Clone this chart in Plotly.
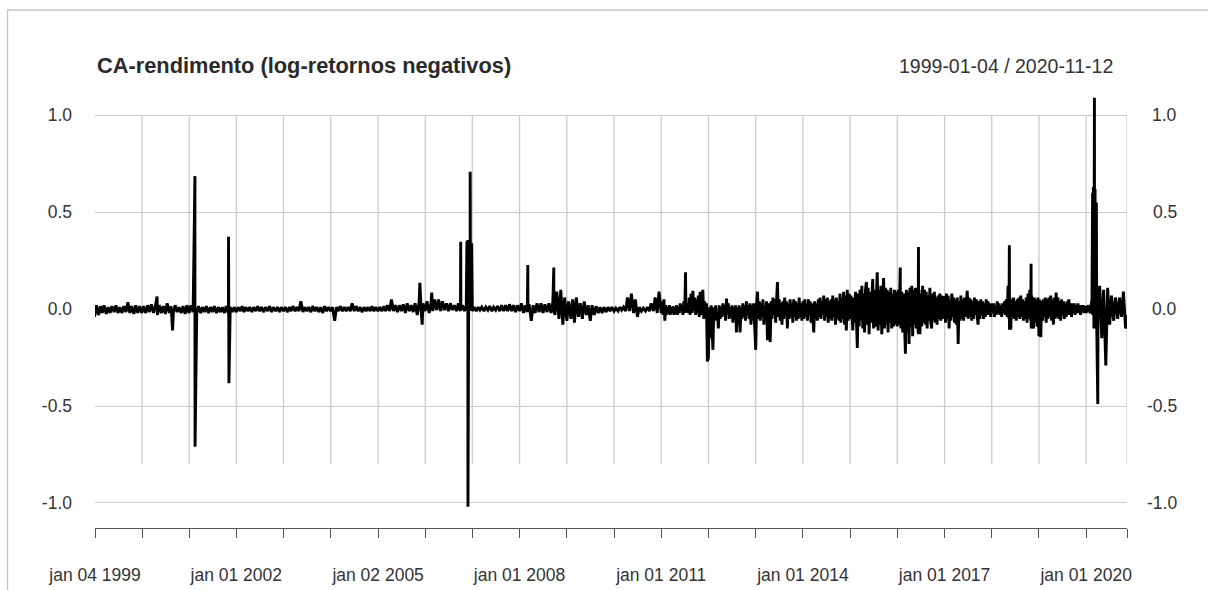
import pandas as pd
import plotly.graph_objects as go

title_text = "CA-rendimento (log-retornos negativos)"
period_text = "1999-01-04 / 2020-11-12"
start_date = "1999-01-04"
end_date = "2020-11-12"

# Semi-monthly readings (1st and 15th of each month) for the calmer years
r1999 = [-0.04, 0.02, -0.03, 0.015, -0.02, 0.02, -0.025, 0.01, -0.02, 0.015, -0.015, 0.02,
         -0.02, 0.01, -0.02, 0.015, -0.015, 0.035, -0.02, 0.015, -0.025, 0.02, -0.02, 0.015]
r2000 = [-0.02, 0.015, -0.02, 0.02, -0.015, 0.025, -0.02, 0.015, -0.03, 0.02, -0.02, 0.015,
         -0.025, 0.03, -0.02, 0.015, -0.02, 0.02, -0.015, 0.01, -0.02, 0.015, -0.025, 0.02]
r2001 = [-0.02, 0.02, -0.015, 0.01, -0.02, 0.015, -0.02, 0.01, -0.015, 0.015, -0.02, 0.01,
         -0.015, 0.015, -0.02, 0.01, -0.015, 0.01, -0.02, 0.015, -0.02, 0.01, -0.015, 0.01]
r2002 = [-0.015, 0.01, -0.01, 0.015, -0.015, 0.01, -0.01, 0.01, -0.015, 0.01, -0.01, 0.015,
         -0.01, 0.01, -0.015, 0.01, -0.01, 0.015, -0.015, 0.01, -0.01, 0.01, -0.015, 0.01]
r2003 = [-0.01, 0.01, -0.015, 0.01, -0.01, 0.015, -0.01, 0.01, -0.01, 0.04, -0.015, 0.01,
         -0.01, 0.01, -0.015, 0.015, -0.01, 0.01, -0.015, 0.01, -0.02, 0.015, -0.01, 0.01]
r2004 = [-0.01, 0.01, -0.06, 0.01, -0.01, 0.015, -0.01, 0.01, -0.01, 0.01, -0.01, 0.03,
         -0.01, 0.015, -0.01, 0.01, -0.015, 0.01, -0.01, 0.01, -0.01, 0.015, -0.01, 0.01]
r2005 = [-0.01, 0.01, -0.01, 0.015, -0.01, 0.02, -0.01, 0.05, -0.01, 0.02, -0.015, 0.02,
         -0.01, 0.025, -0.02, 0.03, -0.01, 0.02, -0.015, 0.03, -0.03, 0.035, -0.01, 0.03]
r2006 = [-0.01, 0.04, -0.02, 0.03, -0.01, 0.05, -0.005, 0.05, -0.01, 0.04, -0.005, 0.03,
         -0.01, 0.03, -0.005, 0.02, -0.01, 0.03, -0.01, 0.02, -0.01, 0.02, -0.01, 0.02]
r2007 = [-0.01, 0.01, -0.01, 0.01, -0.005, 0.01, -0.01, 0.01, -0.005, 0.015, -0.01, 0.01,
         -0.005, 0.015, -0.01, 0.02, -0.01, 0.02, -0.01, 0.025, -0.01, 0.02, -0.015, 0.02]
r2008 = [-0.01, 0.03, -0.02, 0.02, -0.015, 0.025, -0.06, 0.02, -0.02, 0.03, -0.015, 0.03,
         -0.02, 0.025, -0.015, 0.03, -0.02, 0.04, -0.03, 0.09, -0.05, 0.1, -0.08, 0.06]
r2009 = [-0.06, 0.04, -0.05, 0.05, -0.07, 0.06, -0.04, 0.03, -0.05, 0.04, -0.03, 0.02,
         -0.06, 0.02, -0.03, 0.015, -0.02, 0.01, -0.02, 0.01, -0.015, 0.01, -0.01, 0.01]
r2010 = [-0.01, 0.005, -0.01, 0.01, -0.005, 0.01, -0.01, 0.06, -0.01, 0.08, -0.02, 0.05,
         -0.04, 0.01, -0.01, 0.005, -0.01, 0.01, -0.01, 0.03, -0.01, 0.06, -0.02, 0.09]
r2020 = [-0.02, 0.02, -0.02, 0.05, -0.1, 0.12, -0.2, 0.12, -0.15, 0.1, -0.29, 0.11,
         -0.08, 0.07, -0.06, 0.06, -0.05, 0.06, -0.04, 0.09, -0.1]

# Weekly readings for the more volatile years (52 per year, from Jan 1)
w2011 = [-0.02, 0.04, -0.03, 0.05, -0.06, 0.02, -0.03, 0.01, -0.02, 0.02,
         -0.03, 0.01, -0.02, 0.015, -0.03, 0.01, -0.025, 0.02, -0.03, 0.01,
         -0.02, 0.03, -0.01, 0.02, -0.03, 0.04, -0.02, 0.05, -0.01, 0.03,
         -0.02, 0.06, -0.03, 0.08, -0.02, 0.095, -0.01, 0.06, -0.03, 0.05,
         -0.02, 0.07, -0.04, 0.09, -0.03, 0.06, 0.1, -0.05, 0.04, -0.03,
         0.03, -0.27]
w2012 = [-0.25, 0.01, -0.15, 0.02, -0.08, -0.21, 0.01, -0.06, 0.02, -0.05,
         -0.03, -0.1, 0.02, -0.05, 0.01, -0.04, 0.03, -0.03, 0.02, -0.06,
         0.055, -0.02, 0.03, -0.05, 0.01, -0.04, 0.02, -0.07, 0.01, -0.05,
         0.02, -0.12, 0.01, -0.08, 0.02, -0.12, 0.01, -0.05, 0.03, -0.04,
         0.02, -0.06, 0.04, -0.03, 0.02, -0.05, 0.03, -0.08, 0.02, -0.06,
         0.03, -0.05]
w2013 = [-0.21, 0.03, 0.09, -0.05, 0.04, -0.06, 0.03, -0.04, 0.05, -0.08,
         0.02, -0.05, 0.04, -0.16, 0.03, -0.06, -0.17, 0.04, -0.05, 0.06,
         -0.03, 0.05, -0.07, 0.04, 0.14, -0.04, 0.05, -0.06, 0.03, -0.08,
         0.04, -0.05, 0.06, -0.03, 0.04, -0.1, 0.03, -0.05, 0.05, -0.04,
         0.03, -0.07, 0.05, -0.04, 0.04, -0.06, 0.03, -0.05, 0.06, -0.04,
         0.03, -0.06]
w2014 = [0.04, -0.05, 0.05, -0.04, 0.03, -0.06, 0.05, -0.03, 0.04, -0.07,
         0.03, -0.05, -0.12, 0.04, -0.05, 0.03, -0.06, 0.05, -0.04, 0.06,
         -0.05, 0.04, -0.03, 0.07, -0.06, 0.05, -0.04, 0.06, -0.07, 0.04,
         -0.05, 0.05, -0.06, 0.07, -0.04, 0.05, -0.08, 0.06, -0.05, 0.04,
         -0.06, 0.08, -0.07, 0.06, -0.05, 0.09, -0.08, 0.07, -0.11, 0.1,
         -0.06, 0.08]
w2015 = [-0.05, 0.07, -0.08, -0.11, 0.06, -0.07, 0.09, -0.1, -0.2, 0.08,
         -0.09, 0.1, -0.06, 0.12, -0.1, 0.08, -0.12, 0.1, 0.14, -0.08,
         0.11, -0.13, 0.09, -0.07, 0.12, 0.155, -0.1, 0.1, -0.09, 0.13,
         0.19, -0.11, 0.1, -0.08, 0.12, -0.13, 0.09, 0.16, -0.1, 0.11,
         -0.08, 0.1, -0.12, 0.09, -0.07, 0.11, -0.1, 0.08, -0.09, 0.1,
         -0.08, 0.09]
w2016 = [-0.09, 0.1, -0.08, 0.12, -0.1, 0.09, -0.12, 0.08, -0.1, -0.23,
         0.1, -0.12, 0.09, -0.18, 0.11, -0.09, 0.12, -0.14, 0.1, -0.08,
         0.11, -0.1, 0.09, -0.12, 0.1, -0.13, 0.08, -0.09, 0.12, -0.07,
         0.1, -0.08, 0.09, -0.1, 0.07, -0.06, 0.11, -0.07, -0.1, 0.08,
         -0.06, 0.09, -0.07, 0.06, -0.08, 0.07, -0.05, 0.08, -0.06, 0.07,
         -0.05, 0.06]
w2017 = [0.06, -0.07, 0.08, -0.05, 0.07, -0.1, 0.05, -0.06, 0.08, -0.04,
         0.06, -0.07, 0.05, -0.08, 0.06, -0.18, 0.04, -0.06, 0.07, -0.05,
         0.05, -0.06, 0.06, -0.04, 0.07, 0.095, -0.05, 0.06, -0.04, 0.05,
         -0.06, 0.04, -0.05, 0.06, -0.03, 0.05, -0.04, -0.08, 0.04, -0.05,
         0.05, -0.03, 0.04, -0.05, 0.03, -0.04, 0.05, -0.03, 0.04, -0.03,
         0.03, -0.04]
w2018 = [0.03, -0.02, 0.03, -0.04, 0.02, -0.03, 0.04, -0.02, 0.03, -0.03,
         0.02, -0.04, 0.03, -0.02, 0.04, -0.03, 0.05, -0.04, 0.12, -0.05,
         0.06, -0.106, 0.05, -0.04, 0.06, -0.05, 0.04, -0.06, 0.05, -0.04,
         0.06, -0.05, 0.07, -0.04, 0.05, -0.06, 0.04, -0.05, 0.06, -0.07,
         0.08, -0.05, 0.1, -0.06, 0.07, -0.08, -0.1, 0.06, -0.07, 0.05,
         -0.09, 0.06]
w2019 = [-0.14, 0.05, -0.145, 0.04, -0.06, 0.05, -0.04, 0.06, -0.07, 0.05,
         -0.05, 0.06, -0.04, 0.07, -0.06, 0.05, -0.08, 0.06, -0.05, 0.085,
         -0.04, 0.06, -0.05, 0.04, -0.06, 0.05, -0.03, 0.04, -0.05, 0.03,
         -0.04, 0.04, -0.03, 0.05, -0.03, 0.03, -0.04, 0.03, -0.02, 0.03,
         -0.03, 0.02, -0.02, 0.03, -0.02, 0.02, -0.03, 0.02, -0.015, 0.02,
         -0.02, 0.015]
end_value = -0.03

# Isolated single-day moves
spike_dates = [
    "2000-04-28", "2000-08-26",
    "2001-02-15", "2001-02-16",
    "2001-11-02", "2001-11-05",
    "2005-11-21", "2005-12-09", "2006-02-21",
    "2006-10-03", "2006-10-04",
    "2006-11-20", "2006-11-21", "2006-11-27", "2006-11-28", "2006-12-05", "2006-12-06",
    "2006-12-15", "2006-12-18", "2006-12-27", "2006-12-28",
    "2008-03-05", "2008-03-06", "2008-09-22", "2008-09-23",
    "2011-07-08", "2011-07-11",
    "2016-01-24", "2016-01-25", "2016-06-13", "2016-06-14",
    "2018-05-17", "2018-05-18", "2018-11-01", "2018-11-02",
    "2020-02-20", "2020-02-21", "2020-02-26", "2020-03-05", "2020-03-06",
    "2020-03-10", "2020-03-12", "2020-03-20", "2020-03-23", "2020-03-31", "2020-04-02",
]
spike_values = [
    0.065, -0.11,
    0.686, -0.71,
    0.373, -0.382,
    0.136, -0.08, 0.085,
    0.347, 0.0,
    0.35, 0.01, 0.356, -1.02, 0.35, 0.01,
    0.708, -0.01, 0.34, 0.0,
    0.227, -0.01, 0.215, 0.0,
    0.19, -0.01,
    0.215, -0.02, 0.32, -0.13,
    0.33, -0.106, 0.234, -0.1,
    0.60, -0.03, 0.63, 1.09, -0.05,
    0.62, -0.1, 0.55, -0.1, -0.49, 0.05,
]

tick_dates = ["1999-01-04", "2000-01-03", "2001-01-02", "2002-01-01", "2003-01-01",
              "2004-01-01", "2005-01-02", "2006-01-02", "2007-01-01", "2008-01-01",
              "2009-01-01", "2010-01-01", "2011-01-01", "2012-01-01", "2013-01-01",
              "2014-01-01", "2015-01-01", "2016-01-01", "2017-01-01", "2018-01-01",
              "2019-01-01", "2020-01-01", "2020-11-12"]
tick_labels = ["jan 04 1999", "", "", "jan 01 2002", "", "", "jan 02 2005", "", "",
               "jan 01 2008", "", "", "jan 01 2011", "", "", "jan 01 2014", "", "",
               "jan 01 2017", "", "", "jan 01 2020", ""]
y_ticks = [-1.0, -0.5, 0.0, 0.5, 1.0]
y_labels = ["-1.0", "-0.5", "0.0", "0.5", "1.0"]

# assemble the series
semi_monthly = {1999: r1999, 2000: r2000, 2001: r2001, 2002: r2002, 2003: r2003,
                2004: r2004, 2005: r2005, 2006: r2006, 2007: r2007, 2008: r2008,
                2009: r2009, 2010: r2010, 2020: r2020}
weekly = {2011: w2011, 2012: w2012, 2013: w2013, 2014: w2014, 2015: w2015,
          2016: w2016, 2017: w2017, 2018: w2018, 2019: w2019}
parts = []
for year, vals in semi_monthly.items():
    d = pd.date_range(f"{year}-01-01", periods=len(vals), freq="SMS")
    parts.append(pd.Series(vals, index=d))
for year, vals in weekly.items():
    d = pd.date_range(f"{year}-01-01", periods=len(vals), freq="7D")
    parts.append(pd.Series(vals, index=d))
parts.append(pd.Series([end_value], index=pd.to_datetime([end_date])))
parts.append(pd.Series(spike_values, index=pd.to_datetime(spike_dates)))
series = pd.concat(parts).sort_index()

# page geometry (pixels)
W, H = 1208, 590
L, R, T, B = 95, 1127, 92, 528


def px_x(p):
    return (p - L) / (R - L)


def px_y(p):
    return (B - p) / (B - T)


fig = go.Figure()
fig.add_trace(go.Scatter(
    x=series.index, y=series.values, mode="lines",
    line=dict(color="black", width=2.9), hoverinfo="skip", showlegend=False,
))

grid_color = "#cbcbcb"
shapes = []
for d in tick_dates[1:]:
    shapes.append(dict(type="line", xref="x", yref="y", x0=d, x1=d, y0=-0.8, y1=1.0,
                       line=dict(color=grid_color, width=1.3), layer="below"))
# outer frame
shapes.append(dict(type="rect", xref="paper", yref="paper",
                   x0=px_x(7.5), x1=px_x(1230), y0=px_y(610), y1=px_y(10),
                   line=dict(color="#c4c4c4", width=1.3), fillcolor="rgba(0,0,0,0)",
                   layer="below"))

text_color = "#333333"
font_family = "Liberation Sans, Arial, sans-serif"
annotations = [
    dict(text=f"<b>{title_text}</b>", xref="paper", yref="paper", x=0, y=px_y(65),
         xanchor="left", yanchor="middle", showarrow=False,
         font=dict(family=font_family, size=21.8, color="#2a2a2a")),
    dict(text=period_text, xref="paper", yref="paper", x=px_x(1115), y=px_y(66),
         xanchor="right", yanchor="middle", showarrow=False,
         font=dict(family=font_family, size=19.5, color=text_color)),
]
for v, lab in zip(y_ticks, y_labels):
    annotations.append(dict(text=lab, xref="paper", yref="y", x=px_x(1179), y=v,
                            xanchor="right", yanchor="middle", showarrow=False,
                            font=dict(family=font_family, size=17.5, color=text_color)))

fig.update_layout(
    width=W, height=H,
    margin=dict(l=L, r=W - R, t=T, b=H - B, pad=0, autoexpand=False),
    paper_bgcolor="white", plot_bgcolor="white",
    shapes=shapes, annotations=annotations,
    xaxis=dict(
        type="date", range=[start_date, end_date], automargin=False,
        tickmode="array", tickvals=tick_dates, ticktext=tick_labels,
        ticks="outside", ticklen=9, tickwidth=1.3, tickcolor="#555555",
        showline=True, linecolor="#555555", linewidth=1.3,
        showgrid=False, zeroline=False, ticklabelstandoff=22,
        tickfont=dict(family=font_family, size=17.5, color=text_color),
    ),
    yaxis=dict(
        range=[-1.129, 1.12], tickmode="array", tickvals=y_ticks, ticktext=y_labels,
        ticks="", showgrid=True, gridcolor=grid_color, gridwidth=1.3, automargin=False,
        zeroline=False, showline=False, ticklabelstandoff=22,
        tickfont=dict(family=font_family, size=17.5, color=text_color),
    ),
)

fig.write_html("out.html")
